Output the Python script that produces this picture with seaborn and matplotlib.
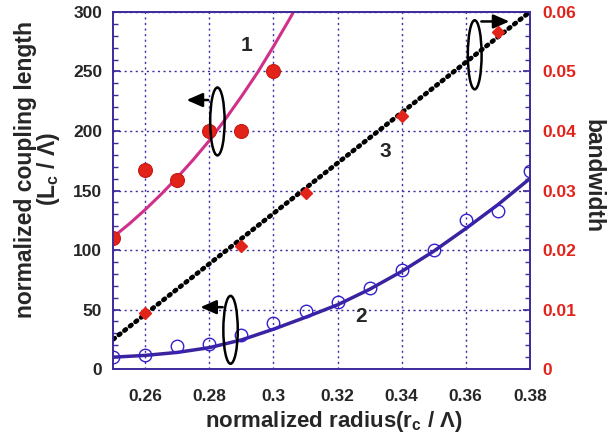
import numpy as np
import pandas as pd
import matplotlib
matplotlib.use("Agg")
import matplotlib.pyplot as plt
import seaborn as sns
from matplotlib.patches import Ellipse
from matplotlib.ticker import FixedLocator, MultipleLocator, FuncFormatter

# measured points
radius_pts = [0.25, 0.26, 0.27, 0.28, 0.29, 0.30]
coupling1_pts = [110, 167, 159, 200, 200, 250]

radius2_pts = [0.25, 0.26, 0.27, 0.28, 0.29, 0.30, 0.31, 0.32, 0.33, 0.34, 0.35, 0.36, 0.37, 0.38]
coupling2_pts = [10, 12, 19.5, 21, 29, 38.5, 48.5, 56, 68.5, 83, 100, 125, 133, 166.5]

radius_bw_pts = [0.26, 0.29, 0.31, 0.34, 0.37]
bandwidth_pts = [0.0095, 0.0206, 0.0296, 0.0426, 0.0566]

# fitted curves
fit1_x = [0.25, 0.255, 0.26, 0.265, 0.27, 0.275, 0.28, 0.285, 0.29, 0.295, 0.30, 0.305, 0.31]
fit1_y = [111, 122, 134, 147, 161, 176, 192, 210, 229, 249, 271, 294, 318]

fit2_x = [0.25, 0.26, 0.27, 0.28, 0.29, 0.30, 0.31, 0.32, 0.33, 0.34, 0.35, 0.36, 0.37, 0.38]
fit2_y = [10, 11.5, 14, 18, 24.5, 33.5, 43.5, 54, 67, 82, 99, 118, 138, 160]

fit3_x = [0.25, 0.38]
fit3_y = [0.005, 0.06]

x_ticks = [0.26, 0.28, 0.30, 0.32, 0.34, 0.36, 0.38]
y_ticks = [0, 50, 100, 150, 200, 250, 300]
y2_ticks = [0, 0.01, 0.02, 0.03, 0.04, 0.05, 0.06]

sns.set_theme(style="white")
plt.rcParams["font.family"] = ["Liberation Sans", "DejaVu Sans"]
plt.rcParams["font.weight"] = "bold"
plt.rcParams["mathtext.fontset"] = "custom"
plt.rcParams["mathtext.rm"] = "Liberation Sans:bold"
plt.rcParams["mathtext.default"] = "rm"

frame = "#3d2a9c"
red = "#e2231a"
magenta = "#d02f8a"
purple = "#3b23a0"

fig = plt.figure(figsize=(6.09, 4.42), dpi=100)
ax = fig.add_axes([0.186, 0.165, 0.684, 0.808])

sns.lineplot(x=fit1_x, y=fit1_y, ax=ax, color=magenta, lw=2.2, sort=False)
sns.lineplot(x=fit2_x, y=fit2_y, ax=ax, color=purple, lw=2.5, sort=False)
ax.plot(radius_pts, coupling1_pts, "o", ms=10, color=red, mec="#c81810", mew=0.8, zorder=5)
ax.plot(radius2_pts, coupling2_pts, "o", ms=9, mfc="none", mec="#3322cc", mew=1.0, zorder=5)

ax.set_xlim(0.25, 0.38)
ax.set_ylim(0, 300)
ax.xaxis.set_major_locator(FixedLocator(x_ticks))
ax.xaxis.set_major_formatter(FuncFormatter(lambda v, p: f"{v:g}"))
ax.xaxis.set_minor_locator(MultipleLocator(0.005))
ax.yaxis.set_major_locator(FixedLocator(y_ticks))
ax.yaxis.set_minor_locator(MultipleLocator(10))
ax.grid(True, which="major", color=frame, ls=(0, (1.5, 2.5)), lw=1.0)
ax.tick_params(which="both", direction="in", color=frame, labelsize=12.5, top=False)
ax.tick_params(which="major", length=5)
ax.tick_params(which="minor", length=3.5)
ax.tick_params(axis="x", pad=14)
ax.tick_params(axis="y", pad=8)
for s in ax.spines.values():
    s.set_color(frame)
    s.set_linewidth(1.2)
for t in ax.get_xticklabels() + ax.get_yticklabels():
    t.set_fontweight("bold")

ax.set_xlabel("normalized radius(r$_{c}$ / Λ)", fontsize=16, fontweight="bold")
ax.xaxis.set_label_coords(0.53, -0.112)
ax.set_ylabel("normalized coupling length\n(L$_{c}$ / Λ)", fontsize=16.5, fontweight="bold",
              linespacing=0.9)
ax.yaxis.set_label_coords(-0.123, 0.56)

ax2 = ax.twinx()
sns.lineplot(x=fit3_x, y=fit3_y, ax=ax2, color="black", lw=3.4, sort=False)
ax2.lines[-1].set_linestyle((0, (0.4, 1.1)))
ax2.lines[-1].set_dash_capstyle("round")
ax2.plot(radius_bw_pts, bandwidth_pts, "D", ms=6, color=red, mec=red, zorder=5)
ax2.set_ylim(0, 0.06)
ax2.yaxis.set_major_locator(FixedLocator(y2_ticks))
ax2.yaxis.set_major_formatter(FuncFormatter(lambda v, p: f"{v:g}"))
ax2.yaxis.set_minor_locator(MultipleLocator(0.002))
ax2.tick_params(which="both", direction="in", color=frame, labelsize=12.5, labelcolor=red, pad=9)
ax2.tick_params(which="major", length=5)
ax2.tick_params(which="minor", length=3.5)
for t in ax2.get_yticklabels():
    t.set_fontweight("bold")
for s in ax2.spines.values():
    s.set_color(frame)
    s.set_linewidth(1.2)
ax2.set_ylabel("bandwidth", fontsize=16.5, fontweight="bold", rotation=270)
ax2.yaxis.set_label_coords(1.178, 0.54)

# curve labels
ax.text(0.2917, 272, "1", fontsize=15, fontweight="bold", ha="center", va="center")
ax.text(0.3348, 183, "3", fontsize=15, fontweight="bold", ha="center", va="center")
ax.text(0.3273, 44, "2", fontsize=15, fontweight="bold", ha="center", va="center")

# ellipses with arrows
for cx, cy in [(0.2825, 208), (0.2866, 33)]:
    ax.add_patch(Ellipse((cx, cy), 0.0045, 57, fill=False, ec="black", lw=1.8, zorder=6))
ax.annotate("", xy=(0.272, 226), xytext=(0.2805, 226),
            arrowprops=dict(arrowstyle="-|>,head_length=0.8,head_width=0.35", color="black", lw=1.8))
ax.annotate("", xy=(0.2763, 52), xytext=(0.2850, 52),
            arrowprops=dict(arrowstyle="-|>,head_length=0.8,head_width=0.35", color="black", lw=1.8))
ax.add_patch(Ellipse((0.3628, 264), 0.0043, 58, fill=False, ec="black", lw=1.8, zorder=6))
ax.annotate("", xy=(0.3745, 292), xytext=(0.3640, 292),
            arrowprops=dict(arrowstyle="-|>,head_length=0.8,head_width=0.35", color="black", lw=1.8))

fig.savefig("out.png", dpi=100)
